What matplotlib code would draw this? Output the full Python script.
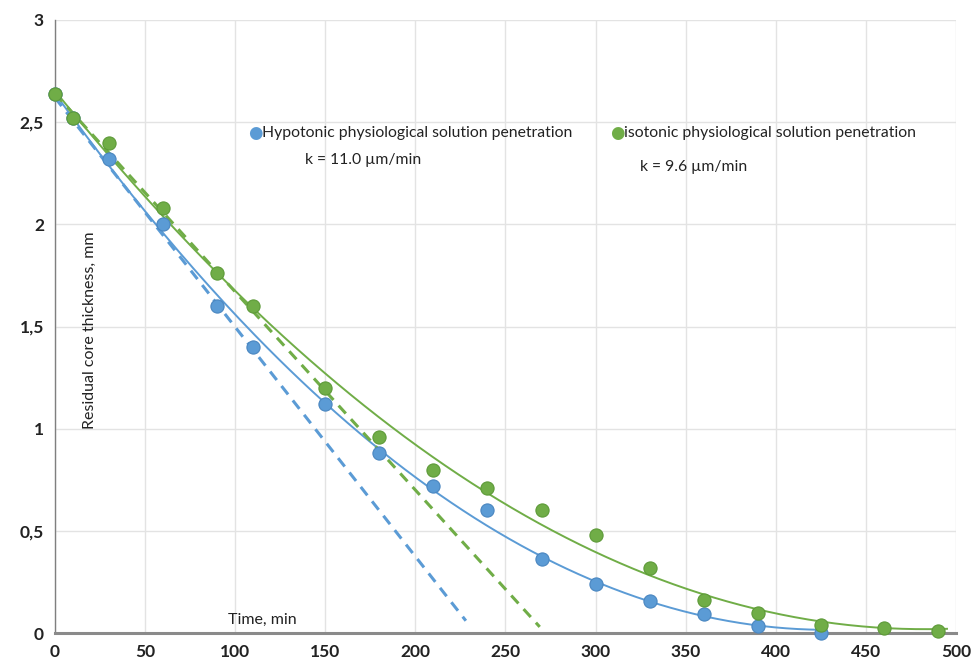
import numpy as np
import matplotlib
matplotlib.use("Agg")
import matplotlib.pyplot as plt

plt.rcParams['font.family'] = ['Lato', 'DejaVu Sans']

# Data
time_hypo = [0, 10, 30, 60, 90, 110, 150, 180, 210, 240, 270, 300, 330, 360, 390, 425]
thick_hypo = [2.64, 2.52, 2.32, 2.00, 1.60, 1.40, 1.12, 0.88, 0.72, 0.60, 0.36, 0.24, 0.155, 0.095, 0.035, 0.0]
time_iso = [0, 10, 30, 60, 90, 110, 150, 180, 210, 240, 270, 300, 330, 360, 390, 425, 460, 490]
thick_iso = [2.64, 2.52, 2.40, 2.08, 1.76, 1.60, 1.20, 0.96, 0.80, 0.71, 0.60, 0.48, 0.32, 0.16, 0.10, 0.04, 0.024, 0.01]
# Initial-slope (tangent) lines: endpoints
tan_hypo_t = [0, 228]
tan_hypo_y = [2.62, 0.06]
tan_iso_t = [0, 269]
tan_iso_y = [2.64, 0.03]
xticks = [0, 50, 100, 150, 200, 250, 300, 350, 400, 450, 500]
yticks = [0, 0.5, 1, 1.5, 2, 2.5, 3]
ytick_labels = ['0', '0,5', '1', '1,5', '2', '2,5', '3']

blue = '#5B9BD5'
green = '#70AD47'

fig = plt.figure(figsize=(9.76, 6.64), dpi=100)
ax = fig.add_axes([55/976, 1-633/664, (956-55)/976, (633-20)/664])
ax.set_xlim(0, 500)
ax.set_ylim(0, 3)

ax.grid(True, color='#e3e3e3', linewidth=1.0)
ax.set_axisbelow(True)
ax.set_xticks(xticks)
ax.set_yticks(yticks)
ax.set_yticklabels(ytick_labels)
ax.tick_params(length=0, labelsize=12.5, colors='#222222', pad=8)
for lab in ax.get_xticklabels() + ax.get_yticklabels():
    lab.set_fontweight('bold')
for s in ['top', 'right']:
    ax.spines[s].set_visible(False)
ax.spines['left'].set_color('#7f7f7f')
ax.spines['left'].set_linewidth(1.0)
ax.spines['bottom'].set_color('#8a8a8a')
ax.spines['bottom'].set_linewidth(2.2)

# polynomial trend lines (order 2)
ph = np.polyfit(time_hypo, thick_hypo, 2)
pi = np.polyfit(time_iso, thick_iso, 2)
th = np.linspace(0, 425, 200)
ti = np.linspace(0, 495, 200)
ax.plot(th, np.polyval(ph, th), color=blue, lw=1.4, zorder=3)
ax.plot(ti, np.polyval(pi, ti), color=green, lw=1.4, zorder=3)

# tangent dashed lines
ax.plot(tan_hypo_t, tan_hypo_y, color=blue, lw=2.2, ls=(0, (3.5, 2.5)), zorder=3)
ax.plot(tan_iso_t, tan_iso_y, color=green, lw=2.2, ls=(0, (3.5, 2.5)), zorder=3)

ax.scatter(time_hypo, thick_hypo, s=90, color=blue, edgecolors='#4a86c0', linewidths=0.8, zorder=4, clip_on=False)
ax.scatter(time_iso, thick_iso, s=90, color=green, edgecolors='#5d9a38', linewidths=0.8, zorder=5, clip_on=False)

# legend-like annotations
fig.text(255/976, 1-133/664, '\u25CF', color=blue, fontsize=12, ha='center', va='center', family='DejaVu Sans')
fig.text(262/976, 1-133/664, 'Hypotonic physiological solution penetration', fontsize=11.3, ha='left', va='center', color='#222222')
fig.text(617/976, 1-133/664, '\u25CF', color=green, fontsize=12, ha='center', va='center', family='DejaVu Sans')
fig.text(624/976, 1-133/664, 'isotonic physiological solution penetration', fontsize=11.3, ha='left', va='center', color='#222222')
fig.text(305/976, 1-160/664, 'k = 11.0 \u00b5m/min', fontsize=11.3, ha='left', va='center', color='#222222')
fig.text(640/976, 1-167/664, 'k = 9.6 \u00b5m/min', fontsize=11.3, ha='left', va='center', color='#222222')

fig.text(90/976, 1-330/664, 'Residual core thickness, mm', fontsize=11.5, rotation=90, ha='center', va='center', color='#222222')
fig.text(262/976, 1-620/664, 'Time, min', fontsize=11.5, ha='center', va='center', color='#222222')

fig.savefig('out.png', dpi=100)
